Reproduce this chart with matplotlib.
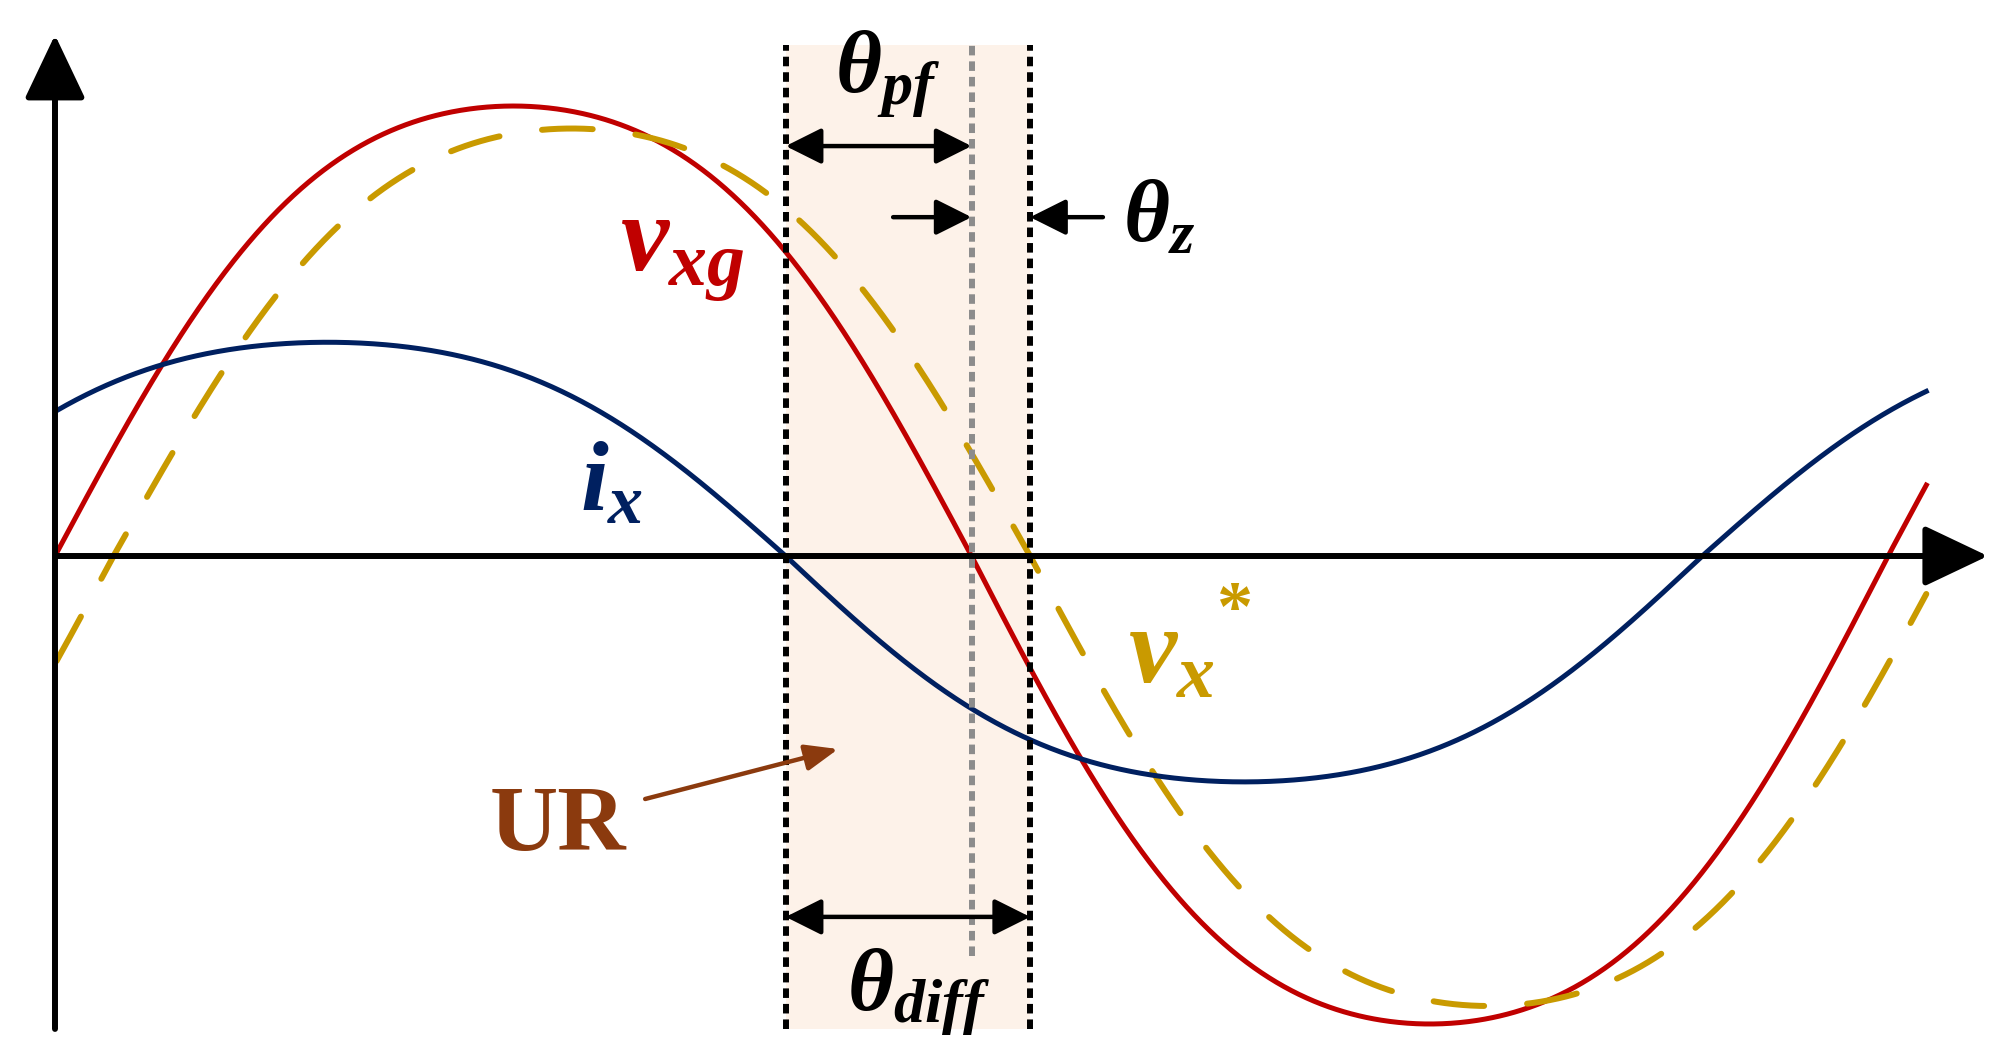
import matplotlib.pyplot as plt
import numpy as np

# waveform parameters (angle in degrees, amplitude in p.u. of v_xg peak)
waves = ["v_xg", "v_x*", "i_x"]
phase_deg = [0.0, -11.5, 36.5]          # + = leading
amp_pos = [1.00, 0.95, 0.475]
amp_neg = [1.04, 1.00, 0.502]
colors = ["#C00000", "#C99A00", "#002060"]
flat = 0.05                              # curves are a bit flat-topped
theta_span = [0.3, 367.5]

plt.rcParams['mathtext.fontset'] = 'custom'
plt.rcParams['mathtext.it'] = 'Liberation Serif:style=italic:weight=bold'
plt.rcParams['mathtext.rm'] = 'Liberation Serif:weight=bold'
plt.rcParams['mathtext.bf'] = 'Liberation Serif:weight=bold'

fig = plt.figure(figsize=(20.04, 10.59), dpi=100)
ax = fig.add_axes([0, 0, 1, 1])
ax.set_xlim(-10.80, 382.76)
ax.set_ylim(-1.1178, 1.2356)
ax.axis('off')

def shape(t):
    r = np.radians(t)
    return (np.sin(r) + flat * np.sin(3 * r)) / (1 - flat)

th = np.linspace(theta_span[0], theta_span[1], 1500)
for name, ph, ap, an, c in zip(waves, phase_deg, amp_pos, amp_neg, colors):
    s = shape(th + ph)
    y = np.where(s > 0, ap * s, an * s)
    if name == "v_x*":
        ax.plot(th, y, color=c, lw=4.3, dashes=(8.5, 7.2), dash_capstyle='round', zorder=3)
    else:
        ax.plot(th, y, color=c, lw=3.6, zorder=3)

# zero crossings define the uncertain region
z_i = 180 - phase_deg[2]
z_v = 180 - phase_deg[0]
z_ref = 180 - phase_deg[1]
y_lo, y_hi = -1.051, 1.136
ax.axvspan(z_i, z_ref, ymin=(y_lo + 1.1178) / 2.3534, ymax=(y_hi + 1.1178) / 2.3534,
           color='#FDF2E9', lw=0, zorder=0)
for xv, c, yb in [(z_i, 'k', y_lo), (z_ref, 'k', y_lo), (z_v, '#8C8C8C', -0.89)]:
    ax.plot([xv, xv], [yb, y_hi], color=c, lw=4.3, dashes=(1.6, 1.0), zorder=4)

# axes with arrows
axis_kw = dict(arrowstyle='-|>,head_length=2.0,head_width=0.95', color='k', lw=4.3,
               mutation_scale=20, shrinkA=0, shrinkB=0)
ax.annotate("", xy=(379.6, 0), xytext=(0, 0), arrowprops=axis_kw, zorder=5)
ax.annotate("", xy=(0, 1.158), xytext=(0, -1.051), arrowprops=axis_kw, zorder=5)

dim_kw = dict(color='k', lw=3.2, mutation_scale=20, shrinkA=0, shrinkB=0)
dbl = '<|-|>,head_length=1.1,head_width=0.55'
one = '-|>,head_length=1.1,head_width=0.55'
ax.annotate("", xy=(z_v, 0.911), xytext=(z_i, 0.911), arrowprops=dict(arrowstyle=dbl, **dim_kw), zorder=6)
ax.annotate("", xy=(z_ref, -0.802), xytext=(z_i, -0.802), arrowprops=dict(arrowstyle=dbl, **dim_kw), zorder=6)
ax.annotate("", xy=(z_v, 0.753), xytext=(164.6, 0.753), arrowprops=dict(arrowstyle=one, **dim_kw), zorder=6)
ax.annotate("", xy=(z_ref, 0.753), xytext=(205.8, 0.753), arrowprops=dict(arrowstyle=one, **dim_kw), zorder=6)

ax.text(163.6, 1.031, r'$\theta_{pf}$', fontsize=64, ha='center', va='baseline', zorder=7)
ax.text(209.7, 0.698, r'$\theta_{z}$', fontsize=64, ha='left', va='baseline', zorder=7)
ax.text(169.5, -1.009, r'$\theta_{diff}$', fontsize=64, ha='center', va='baseline', zorder=7)

ax.text(111.0, 0.636, r'$v_{xg}$', fontsize=78, color=colors[0], ha='left', va='baseline', zorder=7)
ax.text(103.1, 0.102, r'$i_{x}$', fontsize=72, color=colors[2], ha='left', va='baseline', zorder=7)
ax.text(210.7, -0.28, r'$v_{x}$', fontsize=78, color=colors[1], ha='left', va='baseline', zorder=7)
ax.text(231.8, -0.125, '*', fontsize=52, color=colors[1], family='Liberation Serif',
        weight='bold', ha='center', va='center', zorder=7)

ur_color = '#8B3A0E'
ax.text(85.4, -0.653, 'UR', fontsize=68, color=ur_color, family='Liberation Serif',
        weight='bold', ha='left', va='baseline', zorder=7)
ax.annotate("", xy=(153.8, -0.429), xytext=(115.9, -0.54),
            arrowprops=dict(arrowstyle='-|>,head_length=1.0,head_width=0.4', color=ur_color,
                            lw=3.2, mutation_scale=20, shrinkA=0, shrinkB=0), zorder=6)

fig.savefig("out.png", dpi=100, facecolor='white')
